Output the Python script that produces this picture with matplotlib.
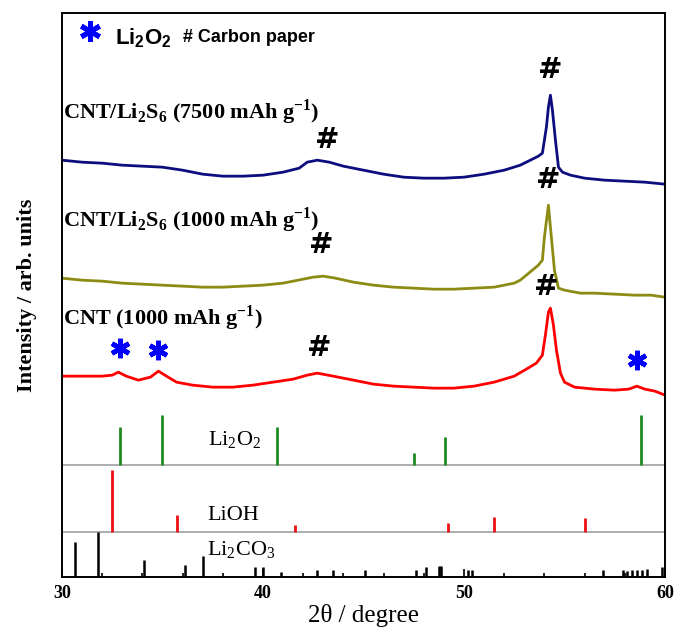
import matplotlib
matplotlib.use("Agg")
import matplotlib.pyplot as plt
from matplotlib.ticker import MultipleLocator

SERIF = "Liberation Serif"
SANS = "Liberation Sans"

# XRD curves, 2theta (deg) and intensity (arb. units, already offset)
x_7500 = [30.0, 31.0, 32.0, 33.0, 34.0, 35.0, 36.0, 37.0, 38.0, 39.0, 40.0, 41.0, 41.8, 42.2,
          42.7, 43.3, 44.0, 45.0, 46.0, 47.0, 48.0, 49.0, 50.0, 51.0, 52.0, 52.8, 53.3, 53.7,
          53.9, 54.1, 54.2, 54.3, 54.4, 54.55, 54.7, 54.9, 55.3, 56.0, 57.0, 58.0, 59.0, 60.0]
y_7500 = [417, 415, 414, 412, 411, 410, 407, 403, 401, 401, 402, 405, 409, 415,
          417, 415, 411, 407, 403, 400, 399, 399, 400, 403, 407, 412, 417, 421,
          424, 450, 470, 482, 467, 437, 410, 405, 402, 399, 397, 396, 395, 393]

x_1000s = [30.0, 31.0, 32.0, 33.0, 34.0, 35.0, 36.0, 37.0, 38.0, 39.0, 40.0, 41.0, 42.0, 42.5,
           43.0, 43.6, 44.5, 45.5, 46.5, 47.5, 48.5, 49.5, 50.5, 51.5, 52.5, 52.8, 53.4, 53.7,
           53.9, 54.0, 54.2, 54.3, 54.5, 54.7, 55.0, 55.8, 56.5, 57.5, 58.5, 59.3, 60.0]
y_1000s = [299, 297, 296, 294, 293, 292, 291, 290, 290, 291, 292, 294, 298, 300,
           301, 299, 295, 292, 290, 289, 288, 288, 289, 290, 294, 297, 307, 312,
           317, 340, 372, 350, 307, 289, 287, 284, 284, 283, 282, 282, 280]

x_cnt = [30.0, 31.0, 32.0, 32.5, 32.8, 33.2, 33.8, 34.4, 34.8, 35.2, 35.7, 36.5, 37.5, 38.5,
         39.5, 40.5, 41.5, 42.2, 42.7, 43.5, 44.5, 45.5, 46.5, 47.5, 48.5, 49.5, 50.5, 51.5,
         52.5, 53.1, 53.6, 53.9, 54.05, 54.2, 54.3, 54.45, 54.6, 54.8, 55.0, 55.5, 56.5, 57.5,
         58.2, 58.6, 59.0, 59.5, 60.0]
y_cnt = [201, 201, 201, 202, 205, 201, 197, 200, 206, 201, 195, 192, 190, 190,
         192, 195, 198, 202, 204, 201, 197, 193, 191, 190, 189, 189, 191, 195,
         201, 208, 214, 222, 242, 265, 269, 252, 227, 204, 195, 190, 188, 187,
         188, 191, 188, 186, 182]

# reference patterns: positions (deg) and stick heights
li2o2_pos = [32.9, 35.0, 40.7, 47.5, 49.05, 58.8]
li2o2_h = [38, 50, 38, 12, 28, 50]
lioh_pos = [32.5, 35.7, 41.6, 49.2, 51.5, 56.0]
lioh_h = [62, 17, 7, 9, 15, 14]
li2co3_pos = [30.65, 31.8, 34.1, 36.1, 37.0, 39.6, 40.0, 40.9, 42.7, 43.5, 45.1, 47.6, 48.1,
              48.75, 48.85, 50.2, 50.4, 56.9, 57.9, 58.1, 58.35, 58.6, 58.85, 59.1, 59.85]
li2co3_h = [35, 45, 17, 12, 21, 10, 10, 5, 7, 7, 7, 7, 10,
            11, 11, 7, 7, 7, 7, 6, 7, 7, 7, 8, 10]
li2o2_base = 112
lioh_base = 45
li2co3_base = 0

fig, ax = plt.subplots(figsize=(6.81, 6.28), dpi=100)
fig.subplots_adjust(left=0.091, right=0.9765, bottom=0.081, top=0.979)

ax.plot(x_7500, y_7500, color="#0d0d80", lw=2)
ax.plot(x_1000s, y_1000s, color="#8c8c14", lw=2)
ax.plot(x_cnt, y_cnt, color="#ff0000", lw=2)

ax.axhline(li2o2_base, color="#a0a0a0", lw=1.2)
ax.axhline(lioh_base, color="#a0a0a0", lw=1.2)
ax.vlines(li2o2_pos, li2o2_base, [li2o2_base + h for h in li2o2_h], color="#1f8a1f", lw=2)
ax.vlines(lioh_pos, lioh_base, [lioh_base + h for h in lioh_h], color="#ee1111", lw=2)
ax.vlines(li2co3_pos, li2co3_base, [li2co3_base + h for h in li2co3_h], color="black", lw=1.8)

# curve labels
lab = dict(family=SERIF, fontweight="bold", fontsize=16, ha="left", va="center")
ax.text(30.05, 465, r"CNT/Li$_\mathregular{2}$S$_\mathregular{6}$ (7500 mAh g$^\mathregular{-1}$)", **lab)
ax.text(30.05, 357, r"CNT/Li$_\mathregular{2}$S$_\mathregular{6}$ (1000 mAh g$^\mathregular{-1}$)", **lab)
ax.text(30.05, 259, r"CNT (1000 mAh g$^\mathregular{-1}$)", **lab)

# reference labels
ref = dict(family=SERIF, fontsize=16, ha="left", va="center")
ax.text(37.25, 137, r"Li$_\mathregular{2}$O$_\mathregular{2}$", **ref)
ax.text(37.25, 62, "LiOH", **ref)
ax.text(37.2, 27, r"Li$_\mathregular{2}$CO$_\mathregular{3}$", **ref)

# peak markers
hs = dict(family="DejaVu Sans", fontweight="bold", fontsize=21, ha="center", va="center")
for hx, hy in [(43.2, 437), (54.3, 507), (42.9, 332), (54.2, 397), (42.8, 229), (54.1, 290)]:
    ax.text(hx, hy, "#", **hs)
star_x = [32.9, 34.8, 58.6]
star_y = [229, 227, 217]
ax.plot(star_x, star_y, ls="none", marker=(6, 2, 0), ms=14, mew=3.4, color="#0000ff")

# legend text at top
ax.plot([31.4], [546], ls="none", marker=(6, 2, 0), ms=15, mew=3.6, color="#0000ff")
ax.text(32.65, 539, r"Li$_\mathregular{2}$O$_\mathregular{2}$", family=SANS, fontweight="bold",
        fontsize=16, ha="left", va="center")
ax.text(36.0, 540, "# Carbon paper", family=SANS, fontweight="bold", fontsize=13,
        ha="left", va="center")

ax.set_xlim(30, 60)
ax.set_ylim(0, 564)
ax.set_yticks([])
ax.set_xticks([30, 40, 50, 60])
ax.xaxis.set_minor_locator(MultipleLocator(2))
ax.tick_params(axis="x", which="major", direction="in", length=6, width=1.2, pad=6)
ax.tick_params(axis="x", which="minor", direction="in", length=3, width=1.2)
for t in ax.get_xticklabels():
    t.set_fontfamily(SERIF)
    t.set_fontweight("bold")
    t.set_fontsize(13)
for s in ax.spines.values():
    s.set_linewidth(1.4)

ax.set_xlabel(r"2θ / degree", family=SERIF, fontsize=18, labelpad=1)
ax.set_ylabel("Intensity / arb. units", family=SERIF, fontweight="bold", fontsize=16, labelpad=18)

fig.savefig("out.png", dpi=100)
